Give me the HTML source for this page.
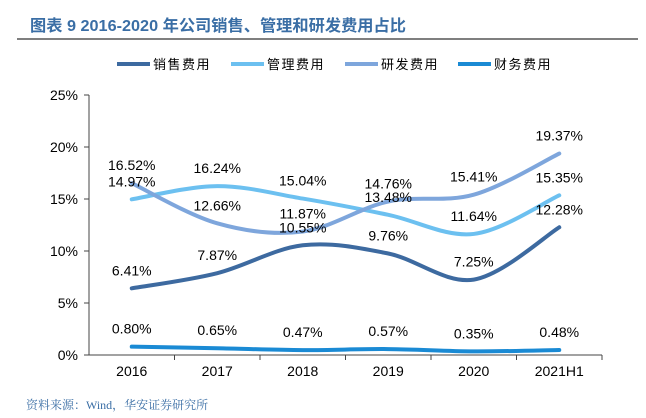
<!DOCTYPE html>
<html><head><meta charset="utf-8"><style>
body{margin:0;background:#fff;width:646px;height:413px;overflow:hidden;font-family:"Liberation Sans","Noto Sans CJK SC",sans-serif}
</style></head><body>
<svg width="646" height="413" xmlns="http://www.w3.org/2000/svg">
<text x="30" y="31" font-size="16" font-weight="bold" fill="#3a6ea5" textLength="376" lengthAdjust="spacingAndGlyphs" font-family="Liberation Sans,Noto Sans CJK SC,sans-serif">图表 9 2016-2020 年公司销售、管理和研发费用占比</text>
<line x1="17" y1="39" x2="638" y2="39" stroke="#333" stroke-width="1.2"/>
<g id="legend"></g>
<g id="axes"></g>
<g id="series"></g>
<text x="26" y="409" font-size="12" fill="#3a6ea5" font-family="Liberation Serif,Noto Serif CJK SC,serif">资料来源：Wind，华安证券研究所</text>
</svg>
<script>
const categories=["2016","2017","2018","2019","2020","2021H1"];
const sales=[6.41,7.87,10.55,9.76,7.25,12.28];
const admin=[14.97,16.24,15.04,13.48,11.64,15.35];
const rnd=[16.52,12.66,11.87,14.76,15.41,19.37];
const finance=[0.80,0.65,0.47,0.57,0.35,0.48];
const yTicks=[0,5,10,15,20,25];
const seriesNames=["销售费用","管理费用","研发费用","财务费用"];
const NS="http://www.w3.org/2000/svg";
const x0=89,x1=602,yBase=355,yTop=95;
const bw=(x1-x0)/categories.length;
const xs=i=>x0+bw*(i+0.5);
const ys=v=>yBase-(v/25)*(yBase-yTop);
function mk(t,a,p){const e=document.createElementNS(NS,t);for(const k in a)e.setAttribute(k,a[k]);p.appendChild(e);return e;}
const axes=document.getElementById('axes');
const ax=mk('line',{x1:x0,y1:yTop,x2:x0,y2:yBase,stroke:'#444'},axes);


const bx=mk('line',{x1:x0,y1:yBase,x2:x1,y2:yBase,stroke:'#444'},axes);


yTicks.forEach(t=>{const y=ys(t);
 mk('line',{x1:x0-5,y1:y,x2:x0,y2:y,stroke:'#444'},axes);
 const tx=mk('text',{x:x0-11,y:y+5,'font-size':14,'text-anchor':'end',fill:'#000'},axes);tx.textContent=t+'%';
 
 
});
categories.forEach((c,i)=>{
 mk('line',{x1:x0+bw*(i+1),y1:yBase,x2:x0+bw*(i+1),y2:yBase+5,stroke:'#444'},axes);
 const tx=mk('text',{x:xs(i),y:yBase+21,'font-size':14,'text-anchor':'middle',fill:'#000'},axes);tx.textContent=c;
 
 
});
const colors=["#3d6aa0","#6cc0f0","#7ea6dc","#1a8ad4"];
const data=[sales,admin,rnd,finance];
const g=document.getElementById('series');
function smooth(pts){let d=`M${pts[0][0]},${pts[0][1]}`;
 for(let i=0;i<pts.length-1;i++){const p0=pts[i-1]||pts[i],p1=pts[i],p2=pts[i+1],p3=pts[i+2]||p2;const t=0.5/3;
 d+=` C${p1[0]+(p2[0]-p0[0])*t},${p1[1]+(p2[1]-p0[1])*t} ${p2[0]-(p3[0]-p1[0])*t},${p2[1]-(p3[1]-p1[1])*t} ${p2[0]},${p2[1]}`;}
 return d;}
data.forEach((arr,s)=>{
 const pts=arr.map((v,i)=>[xs(i),ys(v)]);
 const p=mk('path',{d:smooth(pts),fill:'none',stroke:colors[s],'stroke-width':4,'stroke-linecap':'round'},g);
 
 
});
data.forEach((arr,s)=>{
 arr.forEach((v,i)=>{
  const t=mk('text',{x:xs(i),y:ys(v)-13,'font-size':14,'text-anchor':'middle',fill:'#000'},g);
  t.textContent=v.toFixed(2)+'%';
  
  
 });
});
const lg=document.getElementById('legend');
const lx=[117,231,345,458];
seriesNames.forEach((n,i)=>{
 const l=mk('line',{x1:lx[i],y1:64,x2:lx[i]+33,y2:64,stroke:colors[i],'stroke-width':4},lg);
 
 
 const t=mk('text',{x:lx[i]+36,y:69,'font-size':13,fill:'#000','letter-spacing':'1.5'},lg);t.textContent=n;
 
 
});
</script>
</body></html>
